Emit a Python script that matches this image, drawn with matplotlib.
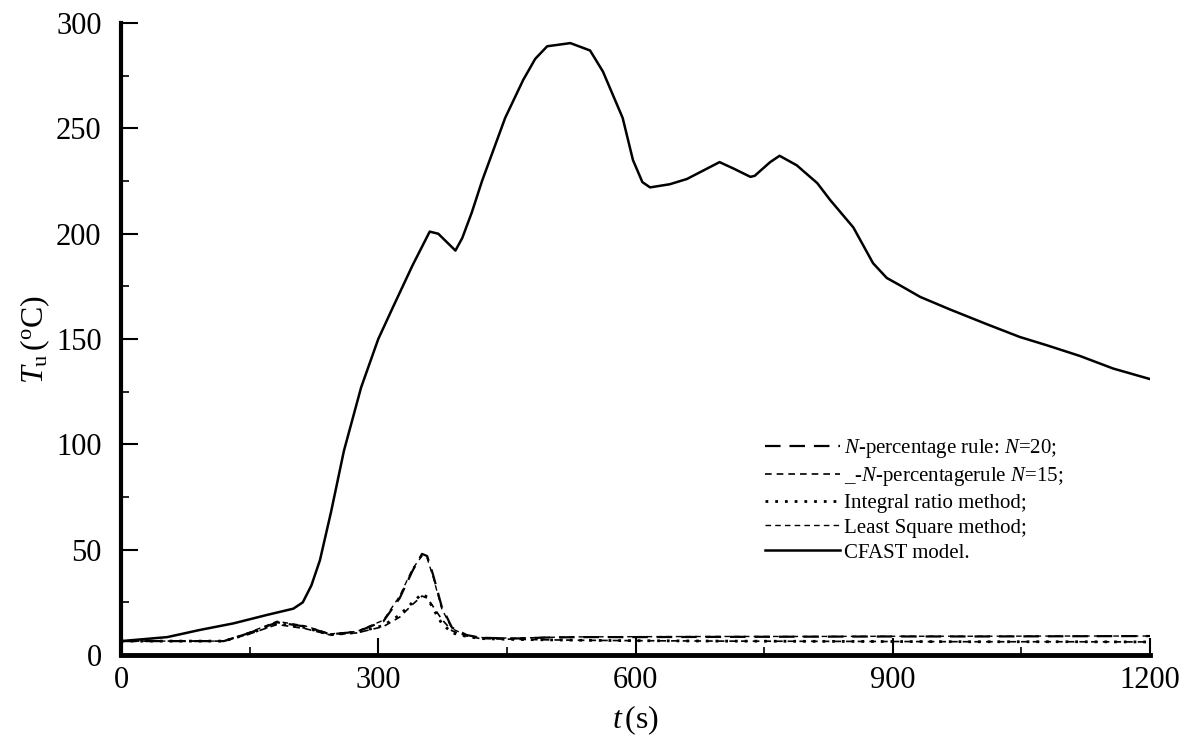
import numpy as np
import matplotlib.pyplot as plt
from matplotlib.ticker import MultipleLocator

plt.rcParams['font.family'] = 'Liberation Serif'
plt.rcParams['mathtext.fontset'] = 'custom'
plt.rcParams['mathtext.rm'] = 'Liberation Serif'
plt.rcParams['mathtext.it'] = 'Liberation Serif:italic'

# CFAST model curve
t_cfast = [0, 54, 92, 131, 170, 201, 212, 222, 232, 245, 260, 280, 300, 317, 340, 360,
           370, 380, 390, 398, 409, 421, 448, 469, 483, 497, 524, 547, 562, 585, 597,
           608, 617, 640, 660, 679, 698, 714, 734, 739, 757, 768, 788, 812, 827, 854,
           877, 893, 908, 932, 967, 1010, 1048, 1080, 1118, 1157, 1200]
T_cfast = [6.6, 8.5, 11.9, 15, 19, 22, 25, 33, 45, 68, 97, 127, 150, 165, 185, 201,
           200, 196, 192, 198, 210, 225, 255, 273, 283, 289, 290.5, 287, 277, 255, 235,
           224.5, 222, 223.5, 226, 230, 234, 231, 227, 227.5, 234, 237, 232.5, 224, 216, 203,
           186, 179, 175.6, 170, 164, 157, 151, 147, 142, 136, 131]

# identification methods
t_m = [0, 120, 150, 182, 215, 244, 275, 306, 325, 340, 351, 357, 364, 374, 386, 403,
       419, 457, 497, 535, 600, 700, 800, 900, 1000, 1100, 1200]
T_n20 = [6.6, 6.6, 10.5, 15.5, 13.5, 9.8, 11, 16, 27, 40, 48, 47, 38, 23, 13, 9.5,
         8.2, 7.8, 8.3, 8.5, 8.5, 8.6, 8.7, 8.8, 8.8, 8.9, 9.0]
T_n15 = [6.6, 6.6, 10, 14.5, 12.5, 9.5, 10.5, 13.5, 18, 24, 28, 27, 23, 17, 11.5, 9,
         7.8, 7.5, 7.2, 7, 6.8, 6.6, 6.5, 6.4, 6.3, 6.3, 6.2]
T_int = [6.6, 6.6, 10.2, 15, 13, 9.6, 10.7, 14, 19, 25, 29, 27.5, 22, 15, 10.5, 8.8,
         7.8, 7.4, 7.2, 7, 6.8, 6.6, 6.5, 6.4, 6.3, 6.3, 6.2]
T_ls = [6.6, 6.6, 10.8, 16, 13.8, 10, 11.2, 16.5, 28, 41, 47, 46, 37, 22, 12.5, 9.3,
        8.3, 8, 8.4, 8.6, 8.7, 8.8, 8.8, 8.9, 8.9, 9.0, 9.0]

fig = plt.figure(figsize=(11.85, 7.45), dpi=100)
ax = fig.add_axes([0.1021, 0.1208, 0.8684, 0.8482])

ax.plot(t_m, T_n20, color='black', lw=1.6, dashes=(7, 4),
        label=r'$N$-percentage rule: $N$=20;')
ax.plot(t_m, T_n15, color='black', lw=1.2, dashes=(4, 3),
        label=r'$\_$-$N$-percentagerule $N$=15;')
ax.plot(t_m, T_int, color='black', lw=2.0, dashes=(1, 2.5),
        label='Integral ratio method;')
ax.plot(t_m, T_ls, color='black', lw=1.0, dashes=(4, 3),
        label='Least Square method;')
ax.plot(t_cfast, T_cfast, color='black', lw=1.8, label='CFAST model.')

ax.set_xlim(0, 1200)
ax.set_ylim(0, 300)
ax.xaxis.set_major_locator(MultipleLocator(300))
ax.xaxis.set_minor_locator(MultipleLocator(150))
ax.yaxis.set_major_locator(MultipleLocator(50))
ax.yaxis.set_minor_locator(MultipleLocator(25))

for s in ['top', 'right']:
    ax.spines[s].set_visible(False)
ax.spines['left'].set_linewidth(3)
ax.spines['bottom'].set_linewidth(3.5)

ax.tick_params(which='major', direction='in', length=12, width=1.5, labelsize=22)
ax.tick_params(axis='y', which='major', pad=14)
ax.tick_params(axis='x', which='major', pad=8)
ax.tick_params(which='minor', direction='in', length=6, width=1.2)

ax.set_xlabel(r'$t\,$(s)', fontsize=23, labelpad=6)
ax.set_ylabel(r'$T_\mathrm{u}\,$($^\mathrm{o}$C)', fontsize=23, labelpad=3)

leg = ax.legend(loc='upper left', bbox_to_anchor=(0.626, 0.345), frameon=False,
                fontsize=15, handlelength=3.6, handletextpad=0.2,
                labelspacing=0.25, borderpad=0, borderaxespad=0)

fig.savefig('out.png', dpi=100)
